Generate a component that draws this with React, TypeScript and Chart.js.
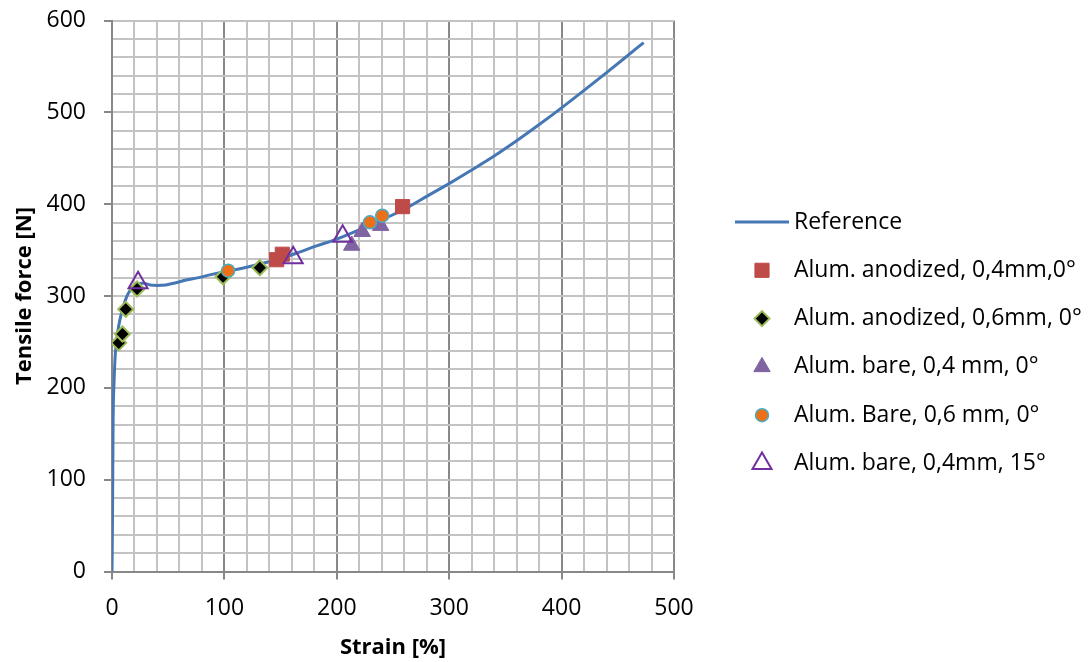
import { useEffect, useRef } from 'react';
import { Chart, registerables } from 'chart.js';

Chart.register(...registerables);

// Reference curve
const refStrain = [0, 0.4, 0.7, 1, 1.8, 3, 5, 7, 10, 13, 16, 19, 23, 28, 34, 40, 48, 57, 66, 77, 87, 100, 115, 131, 149, 165, 182, 200, 230, 260, 280, 301, 320, 340, 360, 381, 402, 420, 440, 457, 473];
const refForce = [0, 50, 110, 165, 205, 238, 260, 274, 288, 299, 306, 311, 313.5, 314, 312, 311.5, 312, 314.5, 317.4, 320, 323, 326.5, 330, 334.5, 340.5, 347, 354.5, 362, 377.5, 394.5, 408.5, 423.2, 437.2, 452.4, 469, 487.5, 506.8, 523.9, 543.3, 560, 576];

// Measured series
const anod04Strain = [146.5, 151.5, 258.5];
const anod04Force = [339.5, 345.5, 397.3];
const anod06Strain = [6, 9.3, 12.2, 22.3, 98.8, 131.5];
const anod06Force = [249, 258.6, 285.5, 307.6, 321, 330.8];
const bare04Strain = [213.3, 222.6, 239];
const bare04Force = [355, 370, 376.6];
const bare06Strain = [103.3, 229.5, 240.4];
const bare06Force = [327.6, 380.3, 387.5];
const bare15Strain = [23.2, 161.2, 205.2];
const bare15Force = [314.5, 341.7, 365];

const seriesLabels = [
  'Reference',
  'Alum. anodized, 0,4mm,0°',
  'Alum. anodized, 0,6mm, 0°',
  'Alum. bare, 0,4 mm, 0°',
  'Alum. Bare, 0,6 mm, 0°',
  'Alum. bare, 0,4mm, 15°',
];

const xTitle = 'Strain [%]';
const yTitle = 'Tensile force [N]';

const FONT = '"Open Sans", "Noto Sans", sans-serif';

const toPts = (xs: number[], ys: number[]) => xs.map((x, i) => ({ x, y: ys[i] }));

type Sty = { style: string; r: number; fill: string; stroke: string; bw: number };
const styles: Sty[] = [
  { style: 'line', r: 0, fill: '#4677B5', stroke: '#4677B5', bw: 3 },
  { style: 'rect', r: 10, fill: '#BE4B48', stroke: '#BE4B48', bw: 1 },
  { style: 'rectRot', r: 7.5, fill: '#000000', stroke: '#9BBB59', bw: 2 },
  { style: 'triangle', r: 9.5, fill: '#8064A2', stroke: '#8064A2', bw: 1 },
  { style: 'circle', r: 6.5, fill: '#EC7018', stroke: '#4BACC6', bw: 1.5 },
  { style: 'triangle', r: 11, fill: 'rgba(0,0,0,0)', stroke: '#7030A0', bw: 2 },
];

function drawMarker(ctx: CanvasRenderingContext2D, s: Sty, x: number, y: number) {
  ctx.save();
  ctx.beginPath();
  const r = s.r;
  if (s.style === 'rect') {
    const h = Math.SQRT1_2 * r;
    ctx.rect(x - h, y - h, 2 * h, 2 * h);
  } else if (s.style === 'rectRot') {
    ctx.moveTo(x, y - r);
    ctx.lineTo(x + r, y);
    ctx.lineTo(x, y + r);
    ctx.lineTo(x - r, y);
    ctx.closePath();
  } else if (s.style === 'triangle') {
    ctx.moveTo(x, y - r);
    ctx.lineTo(x + r * Math.sin((2 * Math.PI) / 3), y + r / 2);
    ctx.lineTo(x - r * Math.sin((2 * Math.PI) / 3), y + r / 2);
    ctx.closePath();
  } else if (s.style === 'circle') {
    ctx.arc(x, y, r, 0, Math.PI * 2);
  }
  ctx.fillStyle = s.fill;
  ctx.fill();
  ctx.lineWidth = s.bw;
  ctx.strokeStyle = s.stroke;
  ctx.stroke();
  ctx.restore();
}

const legendPlugin = {
  id: 'customLegend',
  afterDraw(chart: any) {
    const ctx: CanvasRenderingContext2D = chart.ctx;
    ctx.save();
    ctx.font = `23px ${FONT}`;
    ctx.fillStyle = '#000';
    ctx.textBaseline = 'middle';
    ctx.textAlign = 'left';
    const top = 222;
    const step = 48.3;
    const markerX = 762;
    const textX = 794;
    seriesLabels.forEach((label, i) => {
      const y = top + i * step;
      const s = styles[i];
      if (s.style === 'line') {
        ctx.save();
        ctx.strokeStyle = s.stroke;
        ctx.lineWidth = s.bw;
        ctx.beginPath();
        ctx.moveTo(735, y);
        ctx.lineTo(789, y);
        ctx.stroke();
        ctx.restore();
      } else {
        drawMarker(ctx, s, markerX, y);
      }
      ctx.fillText(label, textX, y);
    });
    ctx.restore();
  },
};

export default function App() {
  const canvasRef = useRef<HTMLCanvasElement>(null);

  useEffect(() => {
    let chart: Chart | null = null;
    let cancelled = false;
    const build = () => {
      if (cancelled || !canvasRef.current) return;
      const scatterSets = [
        [anod04Strain, anod04Force],
        [anod06Strain, anod06Force],
        [bare04Strain, bare04Force],
        [bare06Strain, bare06Force],
        [bare15Strain, bare15Force],
      ].map(([xs, ys], i) => {
        const s = styles[i + 1];
        return {
          label: seriesLabels[i + 1],
          data: toPts(xs, ys),
          showLine: false,
          pointStyle: s.style,
          pointRadius: s.r,
          pointHoverRadius: s.r,
          pointBackgroundColor: s.fill,
          pointBorderColor: s.stroke,
          pointBorderWidth: s.bw,
          backgroundColor: s.fill,
          borderColor: s.stroke,
          order: 4 - i,
        };
      });
      chart = new Chart(canvasRef.current, {
        type: 'scatter',
        data: {
          datasets: [
            {
              label: seriesLabels[0],
              data: toPts(refStrain, refForce),
              showLine: true,
              borderColor: styles[0].stroke,
              backgroundColor: styles[0].stroke,
              borderWidth: 3,
              pointRadius: 0,
              pointHoverRadius: 0,
              cubicInterpolationMode: 'monotone',
              order: 5,
            } as any,
            ...(scatterSets as any[]),
          ],
        },
        options: {
          responsive: false,
          animation: false,
          devicePixelRatio: 1,
          layout: { padding: { left: 0, top: 20.5, right: 417, bottom: 0 } },
          plugins: { legend: { display: false }, tooltip: { enabled: false } },
          scales: {
            x: {
              type: 'linear',
              min: 0,
              max: 500,
              afterFit: (scale: any) => {
                scale.height = 90.5;
                scale.paddingLeft = 0;
                scale.paddingRight = 0;
              },
              ticks: {
                stepSize: 20,
                autoSkip: false,
                maxRotation: 0,
                padding: 15,
                color: '#000',
                font: { family: FONT, size: 23 },
                callback: (v: any) => (Number(v) % 100 === 0 ? String(v) : ''),
              },
              grid: {
                lineWidth: 2,
                color: (c: any) => (c.tick && c.tick.value % 100 === 0 ? '#888888' : '#C3C3C3'),
                tickLength: 8,
                tickColor: (c: any) => (c.tick && c.tick.value % 100 === 0 ? '#888888' : 'rgba(0,0,0,0)'),
                tickWidth: 2,
              },
              border: { color: '#888888', width: 2 },
              title: {
                display: true,
                text: xTitle,
                color: '#000',
                font: { family: FONT, size: 22, weight: 'bold' },
                padding: { top: 0, bottom: 1 },
              },
            },
            y: {
              type: 'linear',
              min: 0,
              max: 600,
              afterFit: (scale: any) => {
                scale.width = 112;
                scale.paddingTop = 0;
                scale.paddingBottom = 0;
              },
              ticks: {
                stepSize: 20,
                autoSkip: false,
                padding: 18,
                color: '#000',
                font: { family: FONT, size: 23 },
                callback: (v: any) => (Number(v) % 100 === 0 ? String(v) : ''),
              },
              grid: {
                lineWidth: 2,
                color: '#C3C3C3',
                tickLength: 8,
                tickColor: (c: any) => (c.tick && c.tick.value % 100 === 0 ? '#888888' : 'rgba(0,0,0,0)'),
                tickWidth: 2,
              },
              border: { color: '#888888', width: 2 },
              title: {
                display: true,
                text: yTitle,
                color: '#000',
                font: { family: FONT, size: 22, weight: 'bold' },
                padding: { top: 12, bottom: 0 },
              },
            },
          },
        } as any,
        plugins: [legendPlugin],
      });
    };
    const fontsReady = (document as any).fonts
      ? Promise.all([
          (document as any).fonts.load(`23px "Open Sans"`),
          (document as any).fonts.load(`bold 22px "Open Sans"`),
        ]).catch(() => null)
      : Promise.resolve(null);
    fontsReady.then(build);
    return () => {
      cancelled = true;
      if (chart) chart.destroy();
    };
  }, []);

  return (
    <div style={{ position: 'fixed', left: 0, top: 0, width: 1091, height: 662, background: '#ffffff' }}>
      <canvas ref={canvasRef} width={1091} height={662} style={{ width: 1091, height: 662, display: 'block' }} />
    </div>
  );
}
